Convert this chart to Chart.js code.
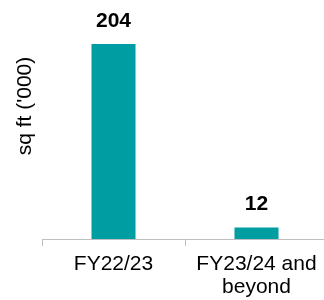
<!DOCTYPE html>
<html>
<head>
<meta charset="utf-8">
<script src="https://cdn.jsdelivr.net/npm/chart.js@4/dist/chart.umd.min.js"></script>
<style>
  html, body { margin: 0; padding: 0; background: #ffffff; overflow: hidden; width: 324px; height: 300px; }
  #wrap { width: 328px; height: 300px; }
</style>
</head>
<body>
<div id="wrap"><canvas id="c" width="328" height="300"></canvas></div>
<script>
const categories = [["FY22/23"], ["FY23/24 and", "beyond"]];
const values = [204, 12];
const yAxisTitle = "sq ft ('000)";

const FONT = "'Liberation Sans', Arial, sans-serif";

const valueLabels = {
  id: 'valueLabels',
  afterDatasetsDraw(chart) {
    const ctx = chart.ctx;
    const meta = chart.getDatasetMeta(0);
    ctx.save();
    ctx.font = "bold 21px " + FONT;
    ctx.fillStyle = '#000000';
    ctx.textAlign = 'center';
    ctx.textBaseline = 'middle';
    meta.data.forEach((bar, i) => {
      ctx.fillText(String(chart.data.datasets[0].data[i]), bar.x, bar.y - 23);
    });
    ctx.restore();
  }
};

const yTitle = {
  id: 'yTitle',
  afterDraw(chart) {
    const ctx = chart.ctx;
    ctx.save();
    ctx.translate(25, 106);
    ctx.rotate(-Math.PI / 2);
    ctx.font = "21px " + FONT;
    ctx.fillStyle = '#000000';
    ctx.textAlign = 'center';
    ctx.textBaseline = 'middle';
    ctx.fillText(yAxisTitle, 0, 0);
    ctx.restore();
  }
};

new Chart(document.getElementById('c'), {
  type: 'bar',
  data: {
    labels: categories,
    datasets: [{
      data: values,
      backgroundColor: '#009EA2',
      borderWidth: 0,
      barPercentage: 0.308,
      categoryPercentage: 1.0
    }]
  },
  options: {
    responsive: false,
    animation: false,
    layout: { padding: { top: 0, left: 42, right: 0, bottom: 0 } },
    plugins: { legend: { display: false }, tooltip: { enabled: false } },
    scales: {
      x: {
        afterFit(scale) { scale.height = 61; },
        grid: { display: true, drawOnChartArea: false, drawTicks: true, tickLength: 7, color: '#BFBFBF', offset: true },
        border: { display: true, color: '#BFBFBF', width: 1 },
        ticks: { color: '#000000', padding: 7, maxRotation: 0, autoSkip: false, font: { family: FONT, size: 21, lineHeight: 1.1 } }
      },
      y: {
        display: false,
        min: 0,
        max: 250
      }
    }
  },
  plugins: [valueLabels, yTitle]
});
</script>
</body>
</html>
